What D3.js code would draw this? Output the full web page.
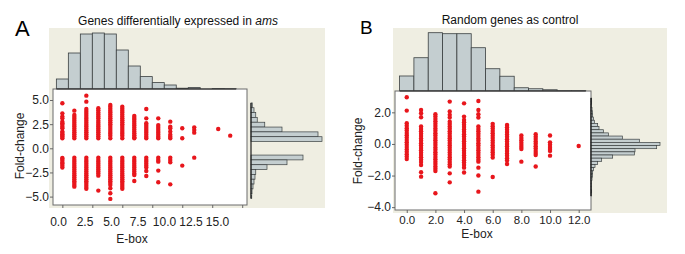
<!DOCTYPE html>
<html>
<head>
<meta charset="utf-8">
<script src="https://cdn.jsdelivr.net/npm/d3@7/dist/d3.min.js"></script>
<style>
  body { margin: 0; background: #fff; }
  text { font-family: Arial, "Liberation Sans", sans-serif; }
</style>
</head>
<body>
<div id="chart"></div>
<script>
//Data

//Panel A: fold-change of each gene, grouped by number of E-boxes
const eboxA = [0, 1, 2, 3, 4, 5, 6, 7, 8, 9, 10, 11, 13, 14];
const foldA = [
  [4.66, 3.62, 3.28, 3.1, 2.76, 2.6, 2.45, 2.24, 2.07, 1.73, 1.6, 1.45, 1.3, 1.2, 1.04, -1.0, -1.1, -1.3, -1.5, -1.6, -1.8, -2.0],
  [3.9, 3.45, 3.25, 3.05, 2.85, 2.65, 2.45, 2.25, 2.05, 1.85, 1.65, 1.45, 1.25, 1.04, -0.97, -1.2, -1.4, -1.6, -1.8, -2.0, -2.2, -2.4, -2.6, -2.8, -3.0, -3.2, -3.4, -3.6, -3.8, -3.97],
  [5.45, 4.83, 4.07, 3.85, 3.65, 3.45, 3.25, 3.05, 2.85, 2.65, 2.45, 2.25, 2.05, 1.85, 1.65, 1.45, 1.25, 1.04, -0.97, -1.2, -1.4, -1.6, -1.8, -2.0, -2.2, -2.4, -2.6, -2.8, -3.0, -3.2, -3.4, -3.6, -3.8, -4.0, -4.2],
  [4.14, 3.95, 3.7, 3.5, 3.3, 3.1, 2.85, 2.65, 2.45, 2.25, 2.05, 1.85, 1.65, 1.45, 1.25, 1.04, -0.97, -1.2, -1.4, -1.6, -1.8, -2.0, -2.2, -2.4, -2.6, -2.83, -4.38],
  [4.49, 4.3, 4.1, 3.9, 3.7, 3.5, 3.3, 3.1, 2.9, 2.7, 2.5, 2.3, 2.1, 1.9, 1.7, 1.5, 1.3, 1.04, -0.97, -1.2, -1.4, -1.6, -1.8, -2.0, -2.2, -2.4, -2.6, -2.8, -3.0, -3.2, -3.4, -3.6, -3.8, -4.14, -4.66, -5.24],
  [4.3, 4.1, 3.9, 3.7, 3.5, 3.3, 3.1, 2.9, 2.7, 2.5, 2.3, 2.1, 1.9, 1.7, 1.5, 1.3, 1.04, -0.97, -1.2, -1.4, -1.6, -1.8, -2.0, -2.2, -2.4, -2.6, -2.8, -3.0, -3.2, -3.4, -3.6, -3.8, -4.0, -4.2],
  [3.35, 3.15, 2.95, 2.75, 2.55, 2.35, 2.15, 1.95, 1.75, 1.55, 1.35, 1.15, 1.04, -0.97, -1.2, -1.4, -1.6, -1.8, -2.0, -2.2, -2.4, -2.6, -2.76, -3.38],
  [4.07, 3.1, 2.59, 2.4, 2.2, 2.0, 1.8, 1.6, 1.4, 1.2, 1.04, -0.97, -1.2, -1.4, -1.6, -1.8, -2.0, -2.35, -2.86],
  [3.1, 2.4, 2.2, 2.0, 1.8, 1.6, 1.4, 1.2, 1.04, -0.97, -1.2, -1.38, -2.31, -3.52],
  [2.76, 2.24, 2.07, 1.73, 1.4, 1.2, 1.04, -0.97, -1.2, -1.45, -3.73],
  [2.07, 1.04, -1.79],
  [2.17, 1.9, 1.62, -0.97],
  [2.0],
  [1.31]
];

//Panel A marginal histograms
const topBinsA = [0, 1, 2, 3, 4, 5, 6, 7, 8, 9, 10, 11, 12, 13, 14];
const topCountsA = [50, 180, 275, 280, 275, 195, 115, 62, 32, 20, 4, 7, 0, 2, 1];
const sideLoA = [4.2, 3.7, 3.2, 2.7, 2.2, 1.7, 1.2, 0.7, -1.2, -1.7, -2.2, -2.7, -3.2, -3.7, -4.2, -4.7, -5.2];
const sideHiA = [4.7, 4.2, 3.7, 3.2, 2.7, 2.2, 1.7, 1.2, -0.7, -1.2, -1.7, -2.2, -2.7, -3.2, -3.7, -4.2, -4.7];
const sideCountsA = [5, 12, 19, 25, 55, 124, 268, 284, 208, 144, 64, 19, 16, 12, 8, 4, 3];

//Panel B: random genes
const eboxB = [0, 1, 2, 3, 4, 5, 6, 7, 8, 9, 10, 12];
const foldB = [
  [2.95, 2.11, 1.31, 1.15, 1.0, 0.85, 0.7, 0.55, 0.4, 0.25, 0.1, -0.05, -0.2, -0.35, -0.5, -0.65, -0.8, -0.95],
  [2.15, 1.94, 1.69, 1.1, 0.95, 0.8, 0.65, 0.5, 0.35, 0.2, 0.05, -0.1, -0.25, -0.4, -0.55, -0.7, -0.85, -1.0, -1.15, -1.33, -1.79, -2.07],
  [1.88, 1.73, 1.58, 1.43, 1.28, 1.13, 0.98, 0.83, 0.68, 0.53, 0.38, 0.23, 0.08, -0.07, -0.22, -0.37, -0.52, -0.67, -0.82, -0.97, -1.12, -1.27, -1.42, -1.57, -1.71, -3.12],
  [2.68, 2.05, 1.84, 1.67, 1.41, 1.26, 1.11, 0.96, 0.81, 0.66, 0.51, 0.36, 0.21, 0.06, -0.09, -0.24, -0.39, -0.54, -0.69, -0.84, -0.99, -1.14, -1.29, -1.43, -1.86, -2.43],
  [2.57, 1.73, 1.52, 1.37, 1.22, 1.07, 0.92, 0.77, 0.62, 0.47, 0.32, 0.17, 0.02, -0.13, -0.28, -0.43, -0.58, -0.73, -0.88, -1.03, -1.18, -1.33, -1.5, -1.81],
  [2.72, 2.15, 1.88, 1.67, 1.1, 0.95, 0.8, 0.65, 0.5, 0.35, 0.2, 0.05, -0.1, -0.25, -0.4, -0.55, -0.7, -0.85, -1.0, -1.12, -1.5, -2.0, -3.02],
  [1.27, 1.12, 0.97, 0.82, 0.67, 0.52, 0.37, 0.22, 0.07, -0.08, -0.23, -0.38, -0.53, -0.68, -0.86, -2.09],
  [1.2, 1.05, 0.9, 0.75, 0.6, 0.45, 0.3, 0.15, 0.0, -0.15, -0.3, -0.45, -0.6, -0.75, -0.9, -1.05, -1.27],
  [0.53, 0.38, 0.23, 0.08, -0.07, -0.2, -0.32, -1.12],
  [0.61, 0.46, 0.31, 0.16, 0.01, -0.14, -0.29, -0.44, -0.58, -0.7, -1.43],
  [0.53, 0.1, -0.05, -0.2, -0.32, -0.44, -0.74],
  [-0.13]
];

const topBinsB = [0, 1, 2, 3, 4, 5, 6, 7, 8, 9, 10, 11, 12];
const topCountsB = [60, 133, 233, 229, 229, 173, 89, 59, 13, 9, 5, 1, 1];
const sideMidB = [2.8, 2.6, 2.4, 2.2, 2.0, 1.8, 1.6, 1.4, 1.2, 1.0, 0.8, 0.6, 0.4, 0.2, 0.0, -0.2, -0.4, -0.6, -0.8, -1.0, -1.2, -1.4, -1.6, -1.8, -2.0, -2.2, -2.4, -2.6, -2.8, -3.0, -3.2];
const sideCountsB = [2, 2, 1, 3, 4, 5, 7, 10, 20, 24, 37, 52, 94, 145, 207, 197, 132, 130, 65, 32, 20, 12, 7, 5, 4, 3, 1, 1, 1, 2, 1];

//Tick labels
const xTicksA = [0, 2.5, 5, 7.5, 10, 12.5, 15];
const yTicksA = [5, 2.5, 0, -2.5, -5];
const xTicksB = [0, 2, 4, 6, 8, 10, 12];
const yTicksB = [2, 0, -2, -4];

//Styles
const beige = "#efeee2";
const barFill = "#c4ced0";
const barStroke = "#3a3f40";
const dotColor = "#e8161c";
const font = 12;

const svg = d3.select("#chart")
  .append("svg")
  .attr("width", 685)
  .attr("height", 254);

function drawPanel(p){

  const g = svg.append("g");

  //beige backdrop
  g.append("rect")
   .attr("x", p.bg[0]).attr("y", p.bg[1])
   .attr("width", p.bg[2]).attr("height", p.bg[3])
   .attr("fill", beige);

  const x = d3.scaleLinear().domain(p.xDom).range([p.box[0], p.box[0] + p.box[2]]);
  const y = d3.scaleLinear().domain(p.yDom).range([p.box[1] + p.box[3], p.box[1]]);

  //top histogram
  const hTop = d3.scaleLinear().domain([0, d3.max(p.topCounts)]).range([0, p.topMax]);
  const topBase = p.box[1];
  g.append("g").selectAll("rect")
   .data(p.topBins.map((b, i) => ({b: b, n: p.topCounts[i]})))
   .join("rect")
   .attr("x", d => x(d.b - 0.5))
   .attr("y", d => topBase - hTop(d.n))
   .attr("width", d => x(d.b + 0.5) - x(d.b - 0.5))
   .attr("height", d => hTop(d.n))
   .attr("fill", barFill)
   .attr("stroke", barStroke)
   .attr("stroke-width", 0.8);

  //white scatter box
  g.append("rect")
   .attr("x", p.box[0]).attr("y", p.box[1])
   .attr("width", p.box[2]).attr("height", p.box[3])
   .attr("fill", "#fff")
   .attr("stroke", "#6a6a6a")
   .attr("stroke-width", 1);

  g.append("line")
   .attr("x1", x(p.topBins[0] - 0.5)).attr("x2", x(p.topBins[p.topBins.length - 1] + 0.5))
   .attr("y1", topBase).attr("y2", topBase)
   .attr("stroke", "#1e1e1e").attr("stroke-width", 1.2);

  //side histogram
  const wSide = d3.scaleLinear().domain([0, d3.max(p.sideCounts)]).range([0, p.sideMax]);
  g.append("g").selectAll("rect")
   .data(p.sideCounts.map((n, i) => ({lo: p.sideLo[i], hi: p.sideHi[i], n: n})))
   .join("rect")
   .attr("x", p.sideBase)
   .attr("y", d => y(d.hi))
   .attr("width", d => wSide(d.n))
   .attr("height", d => y(d.lo) - y(d.hi))
   .attr("fill", barFill)
   .attr("stroke", barStroke)
   .attr("stroke-width", 0.7);

  g.append("line")
   .attr("x1", p.sideBase).attr("x2", p.sideBase)
   .attr("y1", y(d3.max(p.sideHi))).attr("y2", y(d3.min(p.sideLo)))
   .attr("stroke", "#1e1e1e").attr("stroke-width", 1.2);

  //points
  const pts = [];
  p.ebox.forEach((e, i) => p.fold[i].forEach(f => pts.push({x: e, y: f})));
  g.append("g").selectAll("circle")
   .data(pts)
   .join("circle")
   .attr("cx", d => x(d.x))
   .attr("cy", d => y(d.y))
   .attr("r", 2.2)
   .attr("fill", dotColor);

  //axes
  const yAxis = g.append("g")
   .attr("transform", `translate(${p.box[0]},0)`)
   .call(d3.axisLeft(y).tickValues(p.yTicks).tickFormat(d3.format(".1f")).tickSize(3).tickPadding(1));
  yAxis.select(".domain").remove();

  const xAxis = g.append("g")
   .attr("transform", `translate(0,${p.box[1] + p.box[3]})`)
   .call(d3.axisBottom(x).tickValues(p.xTicks).tickFormat("").tickSize(3));
  xAxis.select(".domain").remove();

  //tick labels of the x axis (in A they sit a little off the tick marks)
  const xl = p.xLabelRange ? d3.scaleLinear().domain([p.xTicks[0], p.xTicks[p.xTicks.length - 1]]).range(p.xLabelRange) : x;
  const xLab = g.append("g")
   .attr("transform", `translate(0,${p.box[1] + p.box[3]})`)
   .call(d3.axisBottom(xl).tickValues(p.xTicks).tickFormat(d3.format(".1f")).tickSize(0).tickPadding(p.xPad));
  xLab.select(".domain").remove();

  [yAxis, xAxis, xLab].forEach(a => {
    a.selectAll("text").attr("font-size", font).attr("fill", "#222").attr("font-family", "Arial, 'Liberation Sans', sans-serif");
    a.selectAll("line").attr("stroke", "#666");
  });
  xLab.selectAll("text").attr("font-size", p.xFont);

  //labels
  g.append("text")
   .attr("x", p.xTitle[0]).attr("y", p.xTitle[1])
   .attr("text-anchor", "middle").attr("font-size", font).attr("fill", "#222")
   .text("E-box");

  g.append("text")
   .attr("transform", `translate(${p.yTitle[0]},${p.yTitle[1]}) rotate(-90)`)
   .attr("text-anchor", "middle").attr("dy", "0.35em")
   .attr("font-size", font).attr("fill", "#222")
   .text("Fold-change");

  const t = g.append("text")
   .attr("x", p.title[0]).attr("y", p.title[1])
   .attr("text-anchor", "middle").attr("font-size", font).attr("fill", "#111");
  t.append("tspan").text(p.titleText);
  if (p.titleItalic) t.append("tspan").attr("font-style", "italic").text(p.titleItalic);

  g.append("text")
   .attr("x", p.letter[0]).attr("y", p.letter[1])
   .attr("font-size", p.letter[2]).attr("fill", "#000")
   .text(p.letterText);
}

drawPanel({
  bg: [49, 28, 276, 180],
  box: [53, 89, 194, 116],
  xDom: [-0.78, 15.4],
  yDom: [-5.87, 6.14],
  ebox: eboxA, fold: foldA,
  topBins: topBinsA, topCounts: topCountsA, topMax: 56,
  sideLo: sideLoA, sideHi: sideHiA, sideCounts: sideCountsA, sideBase: 251, sideMax: 71,
  xTicks: xTicksA, yTicks: yTicksA,
  xLabelRange: [58, 217], xPad: 12, xFont: 12,
  xTitle: [132, 243], yTitle: [20, 146],
  title: [178, 25], titleText: "Genes differentially expressed in ", titleItalic: "ams",
  letter: [15, 36, 22], letterText: "A"
});

drawPanel({
  bg: [393, 28, 274, 185],
  box: [395, 91, 196, 119],
  xDom: [-0.82, 12.86],
  yDom: [-4.18, 3.35],
  ebox: eboxB, fold: foldB,
  topBins: topBinsB, topCounts: topCountsB, topMax: 58.3,
  sideLo: sideMidB.map(m => m - 0.1), sideHi: sideMidB.map(m => m + 0.1), sideCounts: sideCountsB, sideBase: 591, sideMax: 69,
  xTicks: xTicksB, yTicks: yTicksB,
  xLabelRange: null, xPad: 6, xFont: 11.5,
  xTitle: [477, 238], yTitle: [358, 151],
  title: [510, 24], titleText: "Random genes as control", titleItalic: null,
  letter: [360, 34, 19], letterText: "B"
});
</script>
</body>
</html>
